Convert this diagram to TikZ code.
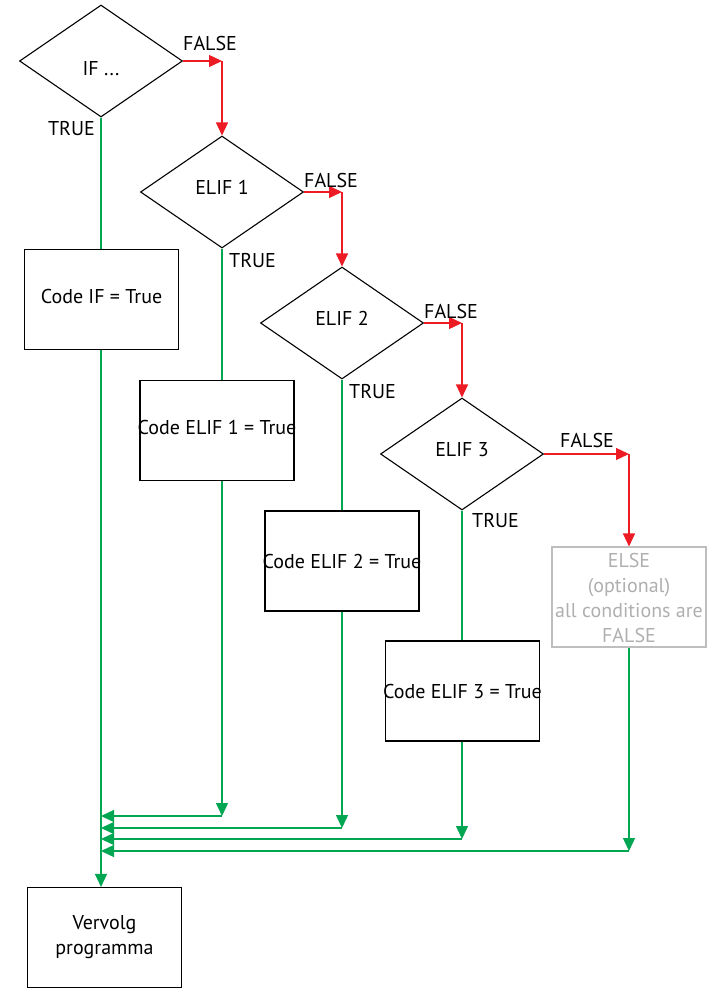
\documentclass[tikz,border=0pt]{standalone}
\usepackage{fontspec}
\setmainfont{PT Sans}
\usetikzlibrary{shapes.geometric,arrows.meta}
\definecolor{fred}{RGB}{237,28,36}
\definecolor{tgreen}{RGB}{0,166,81}
\definecolor{lgray}{RGB}{190,190,190}
\definecolor{tgray}{RGB}{175,175,175}
\newcommand{\shiftv}[2]{\raisebox{#1}[\height][\depth]{#2}}
\tikzset{
  dia/.style={draw, line width=1.1pt, diamond, inner sep=0pt, minimum width=163pt, minimum height=112pt, font=\fontsize{20}{24}\selectfont},
  box/.style={draw, line width=1.1pt, rectangle, inner sep=0pt, minimum width=154pt, minimum height=100pt, font=\fontsize{20}{24}\selectfont},
  lbl/.style={inner sep=0pt, font=\fontsize{20}{24}\selectfont},
  rarr/.style={draw=fred, line width=1.3pt, -{Triangle[length=13pt,width=12pt]}, fill=fred},
  garr/.style={draw=tgreen, line width=1.3pt, -{Triangle[length=13pt,width=12pt]}},
  gline/.style={draw=tgreen, line width=1.3pt},
}
\begin{document}
\begin{tikzpicture}[x=1pt,y=-1pt]
\useasboundingbox (0,0) rectangle (714,990);
% decisions
\node[dia] (if) at (101,61) {\shiftv{-8pt}{IF ...}};
\node[dia] (e1) at (222,192) {\shiftv{5pt}{ELIF 1}};
\node[dia] (e2) at (342,323) {\shiftv{5pt}{ELIF 2}};
\node[dia] (e3) at (462,454) {\shiftv{4pt}{ELIF 3}};
% code boxes
\node[box] (cif) at (101.5,299.5) {\makebox[0pt]{\shiftv{3pt}{Code IF = True}}};
\node[box] (c1) at (217,430.5) {\makebox[0pt]{\shiftv{3pt}{Code ELIF 1 = True}}};
\node[box] (c2) at (342,561) {\makebox[0pt]{Code ELIF 2 = True}};
\node[box] (c3) at (462.5,691) {\makebox[0pt]{Code ELIF 3 = True}};
\node[box, draw=lgray, text=tgray, font=\fontsize{20}{25}\selectfont] (els) at (629,597) {\shiftv{-3pt}{\begin{tabular}{@{}c@{}}ELSE\\(optional)\\\makebox[0pt]{all conditions are}\\FALSE\end{tabular}}};
\node[box, font=\fontsize{20}{25}\selectfont] (verv) at (104.5,937.5) {\shiftv{1pt}{\begin{tabular}{@{}c@{}}Vervolg\\programma\end{tabular}}};
% false path
\coordinate (f0) at (if.east -| e1.north);
\coordinate (f1) at (e1.east -| e2.north);
\coordinate (f2) at (e2.east -| e3.north);
\coordinate (f3) at (e3.east -| els.north);
\draw[rarr] (if.east) -- (f0);
\draw[rarr] (f0) -- (e1.north);
\draw[rarr] (e1.east) -- (f1);
\draw[rarr] (f1) -- (e2.north);
\draw[rarr] (e2.east) -- (f2);
\draw[rarr] (f2) -- (e3.north);
\draw[rarr] (e3.east) -- (f3);
\draw[rarr] (f3) -- (els.north);
% labels
\node[lbl, anchor=base west] (lf0) at (183,51) {FALSE};
\node[lbl, anchor=base west] (lf1) at (304,187) {FALSE};
\node[lbl, anchor=base west] (lf2) at (424,318) {FALSE};
\node[lbl, anchor=base west] (lf3) at (560,447) {FALSE};
\node[lbl, anchor=base east] (lt0) at (95,135) {TRUE};
\node[lbl, anchor=base west] (lt1) at (229,267) {TRUE};
\node[lbl, anchor=base west] (lt2) at (349,398) {TRUE};
\node[lbl, anchor=base west] (lt3) at (472,527) {TRUE};
% true path
\coordinate (m0) at (if.south |- verv.north);
\coordinate (j1) at (222,816);
\coordinate (j2) at (342,828);
\coordinate (j3) at (462,839);
\coordinate (j4) at (629,851);
\draw[gline] (if.south) -- (if.south |- cif.north);
\draw[garr] (if.south |- cif.south) -- (m0);
\draw[gline] (e1.south) -- (e1.south |- c1.north);
\draw[garr] (e1.south |- c1.south) -- (j1);
\draw[garr] (j1) -- (j1 -| if.south);
\draw[gline] (e2.south) -- (e2.south |- c2.north);
\draw[garr] (e2.south |- c2.south) -- (j2);
\draw[garr] (j2) -- (j2 -| if.south);
\draw[gline] (e3.south) -- (e3.south |- c3.north);
\draw[garr] (e3.south |- c3.south) -- (j3);
\draw[garr] (j3) -- (j3 -| if.south);
\draw[garr] (els.south -| j4) -- (j4);
\draw[garr] (j4) -- (j4 -| if.south);
\end{tikzpicture}
\end{document}
